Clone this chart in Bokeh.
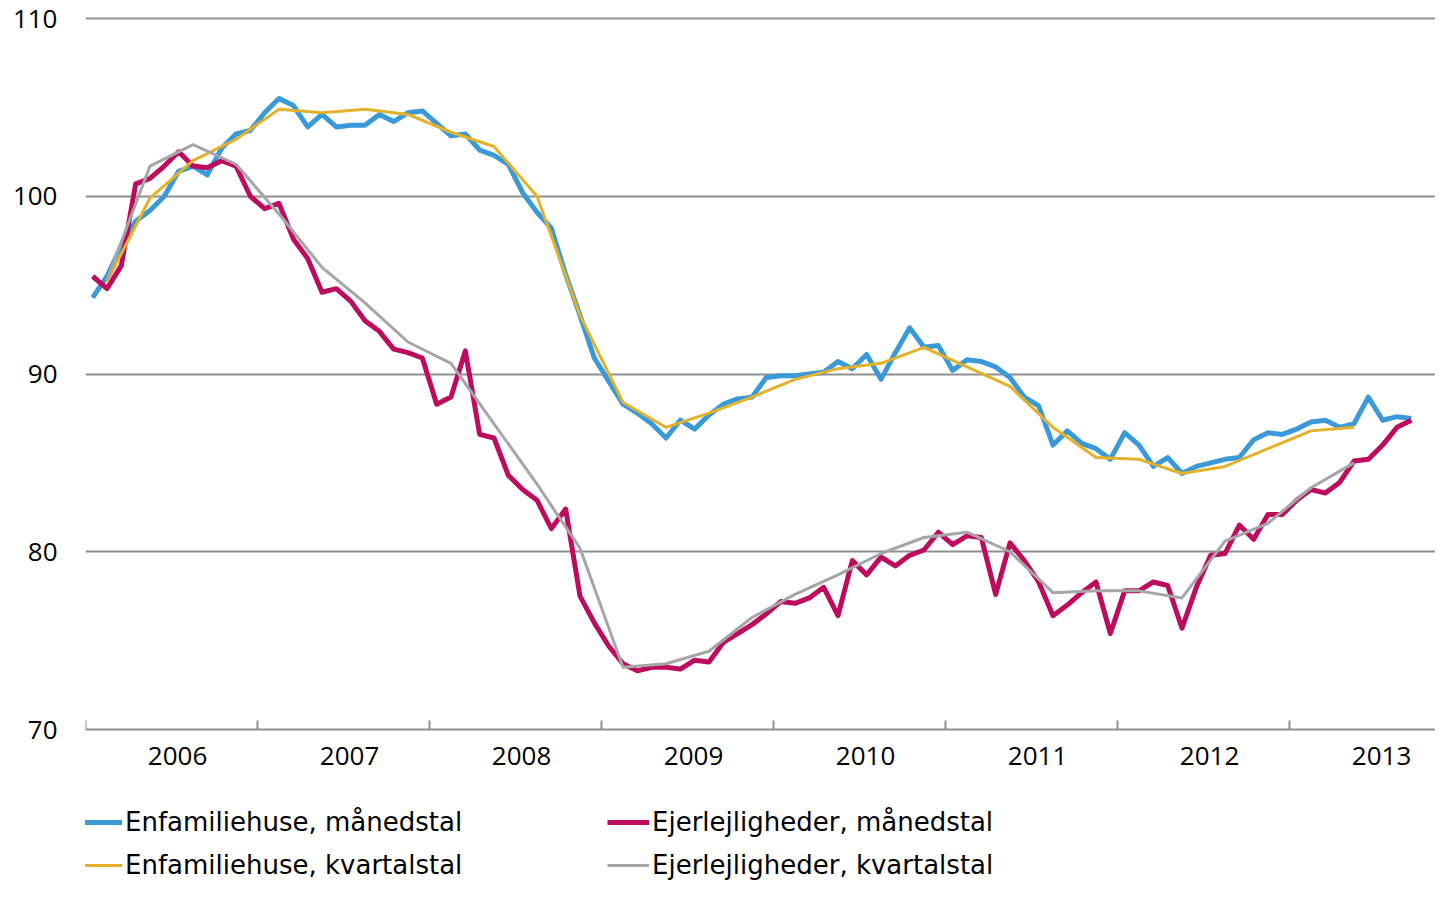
from bokeh.plotting import figure
from bokeh.models import FixedTicker, CustomJSTickFormatter, Legend, LegendItem
from bokeh.embed import file_html
from bokeh.resources import INLINE

# ---------------- data ----------------
start_year = 2006
years = [2006, 2007, 2008, 2009, 2010, 2011, 2012, 2013]
y_ticks = [70, 80, 90, 100, 110]

# monthly index values, Jan 2006 .. Sep 2013
enfam_maaned = [
    94.3, 95.5, 97.2, 98.6, 99.2, 100.0, 101.4, 101.7, 101.2, 102.7, 103.5, 103.7,
    104.7, 105.5, 105.1, 103.9, 104.6, 103.9, 104.0, 104.0, 104.6, 104.2, 104.7, 104.8,
    104.1, 103.4, 103.5, 102.6, 102.3, 101.8, 100.2, 99.1, 98.2, 95.6, 93.3, 90.9,
    89.6, 88.3, 87.8, 87.2, 86.4, 87.4, 86.9, 87.7, 88.3, 88.6, 88.7, 89.8,
    89.9, 89.9, 90.0, 90.1, 90.7, 90.3, 91.1, 89.7, 91.2, 92.6, 91.5, 91.6,
    90.2, 90.8, 90.7, 90.4, 89.8, 88.7, 88.2, 86.0, 86.8, 86.1, 85.8, 85.2,
    86.7, 86.0, 84.8, 85.3, 84.4, 84.8, 85.0, 85.2, 85.3, 86.3, 86.7, 86.6,
    86.9, 87.3, 87.4, 87.0, 87.2, 88.7, 87.4, 87.6, 87.5,
]
ejer_maaned = [
    95.5, 94.8, 96.1, 100.7, 101.0, 101.7, 102.5, 101.7, 101.6, 102.0, 101.7, 100.0,
    99.3, 99.6, 97.6, 96.5, 94.6, 94.8, 94.1, 93.0, 92.4, 91.4, 91.2, 90.9,
    88.3, 88.7, 91.3, 86.6, 86.4, 84.3, 83.5, 82.9, 81.3, 82.4, 77.5, 76.0,
    74.7, 73.7, 73.3, 73.5, 73.5, 73.4, 73.9, 73.8, 74.9, 75.4, 75.9, 76.5,
    77.2, 77.1, 77.4, 78.0, 76.4, 79.5, 78.7, 79.7, 79.2, 79.8, 80.1, 81.1,
    80.4, 80.9, 80.8, 77.6, 80.5, 79.5, 78.3, 76.4, 77.0, 77.7, 78.3, 75.4,
    77.8, 77.8, 78.3, 78.1, 75.7, 78.0, 79.8, 79.9, 81.5, 80.7, 82.1, 82.1,
    82.9, 83.5, 83.3, 83.9, 85.1, 85.2, 86.0, 87.0, 87.4,
]
# quarterly values, Q1 2006 .. Q2 2013 (plotted at the middle month)
enfam_kvartal = [
    95.2, 99.9, 102.0, 103.2, 104.9, 104.7, 104.9, 104.6, 103.6, 102.8,
    100.0, 93.3, 88.4, 87.0, 87.8, 88.7, 89.7, 90.3, 90.6, 91.5,
    90.4, 89.3, 87.0, 85.3, 85.2, 84.4, 84.8, 85.8, 86.8, 87.0,
]
ejer_kvartal = [
    95.3, 101.7, 102.9, 101.8, 99.0, 96.0, 94.0, 91.8, 90.6, 87.2,
    83.8, 80.2, 73.5, 73.7, 74.4, 76.3, 77.6, 78.7, 79.9, 80.8,
    81.1, 80.0, 77.7, 77.8, 77.8, 77.4, 80.6, 81.6, 83.6, 85.0,
]
labels = [
    "Enfamiliehuse, månedstal",
    "Ejerlejligheder, månedstal",
    "Enfamiliehuse, kvartalstal",
    "Ejerlejligheder, kvartalstal",
]

x_month = [start_year + (i + 0.5) / 12 for i in range(len(enfam_maaned))]
x_quarter = [start_year + (3 * k + 1.5) / 12 for k in range(len(enfam_kvartal))]

# ---------------- figure ----------------
BLUE = "#3a9ad9"
PINK = "#be0b5f"
YELLOW = "#e4b12a"
GREY = "#a6a6a6"
AXIS = "#8f8f8f"
FONT = "Open Sans"
LEG_FONT = "DejaVu Sans"

W, H = 1435, 881
LEFT = 85
PX_PER_UNIT = 17.775
PX_PER_YEAR = 172
Y110 = 18  # pixel row of the 110 gridline
y_top = 110 + Y110 / PX_PER_UNIT
y_bot = y_top - H / PX_PER_UNIT

p = figure(width=W, height=H,
           x_range=(2006.0, 2006.0 + (W - LEFT) / PX_PER_YEAR), y_range=(y_bot, y_top),
           output_backend="svg", toolbar_location=None,
           min_border_left=LEFT, min_border_right=0, min_border_top=0, min_border_bottom=0)
p.outline_line_color = None
p.background_fill_color = "white"
p.border_fill_color = "white"

r1 = p.line(x_month, enfam_maaned, line_color=BLUE, line_width=5, line_join="round")
r2 = p.line(x_month, ejer_maaned, line_color=PINK, line_width=5, line_join="round")
r3 = p.line(x_quarter, enfam_kvartal, line_color=YELLOW, line_width=3, line_join="round")
r4 = p.line(x_quarter, ejer_kvartal, line_color=GREY, line_width=3, line_join="round")

# x axis at value 70
xa = p.xaxis[0]
xa.fixed_location = 70
xa.ticker = FixedTicker(ticks=[y + 0.535 for y in years], minor_ticks=years)
xa.formatter = CustomJSTickFormatter(code="return Math.floor(tick).toString()")
xa.axis_line_color = AXIS
xa.axis_line_width = 2
xa.major_tick_line_color = None
xa.major_tick_in = 0
xa.major_tick_out = 0
xa.minor_tick_line_color = AXIS
xa.minor_tick_line_width = 2
xa.minor_tick_in = 9
xa.minor_tick_out = 0
xa.major_label_text_font = FONT
xa.major_label_text_font_size = "26px"
xa.major_label_text_color = "black"
xa.major_label_standoff = 17

ya = p.yaxis[0]
ya.ticker = FixedTicker(ticks=y_ticks)
ya.axis_line_color = None
ya.major_tick_line_color = None
ya.major_tick_in = 0
ya.major_tick_out = 0
ya.minor_tick_line_color = None
ya.minor_tick_in = 0
ya.minor_tick_out = 0
ya.major_label_text_font = FONT
ya.major_label_text_font_size = "26px"
ya.major_label_text_color = "black"
ya.major_label_standoff = 28

p.xgrid.grid_line_color = None
p.ygrid.ticker = FixedTicker(ticks=[80, 90, 100, 110])
p.ygrid.grid_line_color = AXIS
p.ygrid.grid_line_width = 2

legend = Legend(
    items=[LegendItem(label=labels[0], renderers=[r1]),
           LegendItem(label=labels[1], renderers=[r2]),
           LegendItem(label=labels[2], renderers=[r3]),
           LegendItem(label=labels[3], renderers=[r4])],
    location=(-5, 1), orientation="horizontal", nrows=2,
    glyph_width=42, glyph_height=30, label_height=30, label_width=469,
    label_standoff=3, spacing=13, padding=0, margin=0,
    border_line_color=None, background_fill_alpha=0,
    label_text_font=LEG_FONT, label_text_font_size="26px", label_text_color="black",
)
p.add_layout(legend)

open("out.html", "w").write(file_html(p, INLINE))
